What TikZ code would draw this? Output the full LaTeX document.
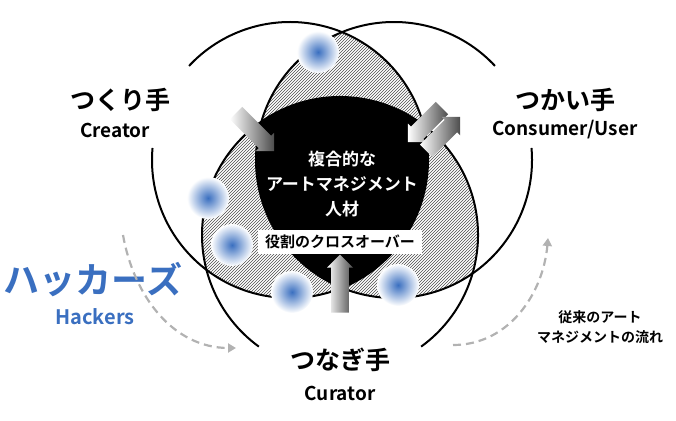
\documentclass[tikz,border=0pt]{standalone}
\usepackage{fontspec}
\setmainfont{Noto Sans CJK JP}[BoldFont={* Bold}]
\usetikzlibrary{patterns,shapes.arrows,arrows.meta}
\definecolor{hblue}{HTML}{3A6FC0}
\begin{document}
\begin{tikzpicture}[x=1pt,y=1pt,
  lbl/.style={font=\bfseries\fontsize{25}{27}\selectfont,inner sep=0},
  sub/.style={font=\bfseries\fontsize{19}{21}\selectfont,inner sep=0},
  wtxt/.style={text=white,font=\bfseries\fontsize{17}{19}\selectfont,inner sep=0},
  garrow/.style={single arrow,minimum width=26,single arrow head extend=3,single arrow head indent=0,inner sep=6,left color=white,right color=black!70,draw=none},
  glow/.style={inner color=hblue,outer color=white},
  flow/.style={draw=black!30,line width=2.2pt,dash pattern=on 8pt off 5pt,-{Triangle[length=8pt,width=9pt]}}]
\useasboundingbox (0,0) rectangle (676,420);
\def\R{138}
\coordinate (ca) at (290,260);
\coordinate (cb) at (394,260);
\coordinate (cc) at (340,185);
\begin{scope}\clip (ca) circle (\R); \fill[pattern=north east lines,pattern color=black!70] (cb) circle (\R); \end{scope}
\begin{scope}\clip (ca) circle (\R); \fill[pattern=north east lines,pattern color=black!70] (cc) circle (\R); \end{scope}
\begin{scope}\clip (cb) circle (\R); \fill[pattern=north east lines,pattern color=black!70] (cc) circle (\R); \end{scope}
\begin{scope}\clip (ca) circle (\R); \clip (cb) circle (\R); \fill[black] (cc) circle (\R); \end{scope}
\draw[line width=2pt] (ca) ++(175:\R) arc[start angle=175,end angle=497,radius=\R];
\draw[line width=2pt] (cb) ++(43:\R) arc[start angle=43,end angle=365,radius=\R];
\draw[line width=2pt] (cc) ++(-54:\R) arc[start angle=-54,end angle=234,radius=\R];
\foreach \px/\py/\n in {318/368/d1,208/222/d2,232/175/d3,292/128/d4,398/135/d5}
  {\coordinate (\n) at (\px,\py); \shade[glow] (\n) circle (21);}
\node[fill=white,inner xsep=7,inner ysep=5,font=\bfseries\fontsize{15}{17}\selectfont] (cross) at (340,178) {役割のクロスオーバー};
\node[wtxt] (t1) at (342,261) {複合的な};
\node[wtxt] (t2) at (342,236) {アートマネジメント};
\node[wtxt] (t3) at (342,211) {人材};
\node[garrow,minimum height=54,rotate=-45] (a1) at (252,291) {};
\node[garrow,minimum height=48,rotate=-135] (a2) at (428,298) {};
\node[garrow,minimum height=48,rotate=45] (a3) at (440,283) {};
\node[garrow,minimum height=58,rotate=90] (a4) at (340,132) {};
\node[lbl] (cre) at (120,320) {つくり手};
\node[sub] (cre2) at (115,290) {Creator};
\node[lbl] (con) at (565,320) {つかい手};
\node[sub] (con2) at (565,290) {Consumer/User};
\node[lbl] (cur) at (340,60) {つなぎ手};
\node[sub] (cur2) at (340,27) {Curator};
\node[inner sep=0,text=hblue,font=\bfseries\fontsize{36}{38}\selectfont] (hack) at (93,140) {ハッカーズ};
\node[inner sep=0,text=hblue,font=\bfseries\fontsize{20}{22}\selectfont] (hack2) at (95,103) {Hackers};
\node[inner sep=0,align=center,font=\bfseries\fontsize{14}{20}\selectfont] (trad) at (600,93) {従来のアート\\マネジメントの流れ};
\coordinate (f1s) at (123,185); \coordinate (f1e) at (236,72);
\coordinate (f2s) at (453,75); \coordinate (f2e) at (548,182);
\draw[flow] (f1s) to[out=-80,in=180] (f1e);
\draw[flow] (f2s) to[out=0,in=-95] (f2e);
\end{tikzpicture}
\end{document}
